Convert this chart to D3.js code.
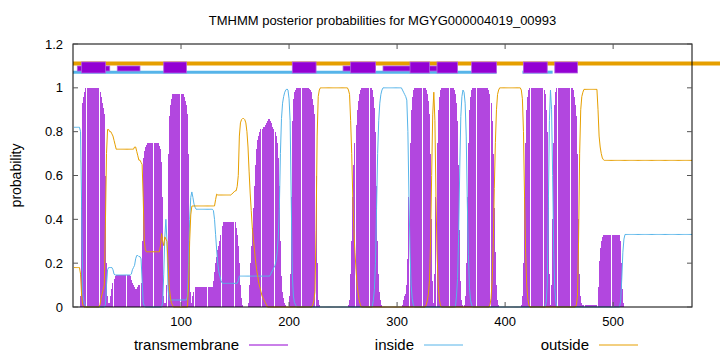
<!DOCTYPE html>
<html>
<head>
<meta charset="utf-8">
<script src="https://cdn.jsdelivr.net/npm/d3@7"></script>
<style>
  body { margin: 0; background: #fff; }
  svg { display: block; font-family: 'Liberation Sans', Arial, sans-serif; }
  .label { font-size: 13px; fill: #000; }
  .ytitle { font-size: 14px; fill: #000; }
  .legend text { font-size: 15px; fill: #000; }
</style>
</head>
<body>
<svg id="chart"></svg>
<script>
const seqLength = 573
const yTicks = [0, 0.2, 0.4, 0.6, 0.8, 1, 1.2]
const xTicks = [100, 200, 300, 400, 500]
const seriesNames = ['transmembrane', 'inside', 'outside']

// posterior probabilities as step breakpoints [residue, p]; p holds until the next breakpoint
const tmSteps = [
  [1,0],[7,0.05],[8,0.5],[9,0.93],[10,0.96],[11,0.98],[12,1],
  [25,0.98],[26,0.96],[27,0.93],[28,0.91],[29,0.88],[30,0.6],[31,0.2],[32,0.05],[33,0.02],[35,0.05],[36,0.08],[37,0.11],[38,0.13],[39,0.14],[40,0.146],
  [53,0.14],[54,0.125],[55,0.11],[56,0.1],[57,0.09],[58,0.08],[60,0.09],[61,0.1],[63,0.11],[64,0.3],[65,0.68],[66,0.71],[67,0.73],[68,0.74],[69,0.747],
  [80,0.735],[81,0.72],[82,0.66],[83,0.5],[84,0.05],[85,0.02],[87,0.1],[88,0.7],[89,0.87],[90,0.92],[91,0.95],[92,0.97],
  [103,0.96],[104,0.94],[105,0.92],[106,0.88],[107,0.7],[108,0.3],[109,0.07],[110,0.02],[111,0.05],[112,0.07],[113,0.09],[114,0.093],
  [130,0.12],[131,0.16],[132,0.2],[133,0.23],[134,0.26],[135,0.28],[136,0.3],[137,0.33],[138,0.37],[139,0.39],
  [151,0.36],[152,0.33],[153,0.28],[154,0.2],[155,0.1],[156,0.04],[157,0.01],[158,0],
  [162,0.02],[163,0.1],[164,0.2],[165,0.28],[166,0.36],[167,0.45],[168,0.55],[169,0.65],[170,0.72],[171,0.76],[172,0.78],[173,0.8],[174,0.81],[176,0.82],[178,0.83],[179,0.84],[180,0.85],[181,0.86],
  [183,0.85],[184,0.84],[185,0.82],[186,0.81],[187,0.8],[188,0.78],[189,0.75],[190,0.68],[191,0.55],[192,0.3],[193,0.14],[194,0.07],[195,0.04],[196,0.02],[197,0.01],[198,0],
  [200,0.05],[201,0.15],[202,0.5],[203,0.85],[204,0.95],[205,0.98],[206,0.99],[207,1],
  [219,0.995],[220,0.99],[221,0.98],[222,0.95],[223,0.92],[224,0.88],[225,0.6],[226,0.2],[227,0.03],[228,0.01],[229,0],
  [255,0.01],[256,0.03],[257,0.15],[258,0.3],[259,0.5],[260,0.65],[261,0.75],[262,0.83],[263,0.9],[264,0.94],[265,0.97],[266,0.99],[267,1],
  [277,0.99],[278,0.96],[279,0.91],[280,0.8],[281,0.55],[282,0.3],[283,0.15],[284,0.07],[285,0.03],[286,0.01],[287,0],
  [305,0.01],[306,0.03],[307,0.05],[308,0.06],[309,0.1],[310,0.22],[311,0.5],[312,0.75],[313,0.9],[314,0.96],[315,0.99],[316,1],
  [327,0.99],[328,0.97],[329,0.94],[330,0.88],[331,0.7],[332,0.4],[333,0.12],[334,0.02],[335,0.15],[336,0.5],[337,0.75],[338,0.9],[339,0.96],[340,0.99],[341,1],
  [353,0.99],[354,0.97],[355,0.93],[356,0.85],[357,0.65],[358,0.35],[359,0.12],[360,0.03],[361,0.01],[363,0.05],[364,0.2],[365,0.5],[366,0.75],[367,0.9],[368,0.96],[369,0.99],[370,1],
  [385,0.99],[386,0.97],[387,0.93],[388,0.85],[389,0.7],[390,0.45],[391,0.25],[392,0.1],[393,0.03],[394,0.01],[395,0],
  [415,0.01],[416,0.05],[417,0.2],[418,0.5],[419,0.75],[420,0.9],[421,0.96],[422,0.99],[423,1],
  [436,0.99],[437,0.97],[438,0.9],[439,0.8],[440,0.5],[441,0.15],[442,0.01],[443,0.1],[444,0.4],[445,0.75],[446,0.92],[447,0.98],[448,1],
  [463,0.99],[464,0.96],[465,0.92],[466,0.87],[467,0.7],[468,0.4],[469,0.15],[470,0.05],[471,0.02],[472,0.007],
  [486,0.09],[487,0.21],[488,0.27],[489,0.3],[490,0.32],[491,0.328],
  [507,0.3],[508,0.2],[509,0.08],[510,0.02],[511,0]
]

const insideSteps = [
  [1,0.82],[7,0.8],[8,0.45],[9,0.06],[10,0.03],[11,0.01],[12,0],
  [30,0.01],[31,0.1],[32,0.17],[33,0.18],[37,0.17],[38,0.15],[39,0.146],
  [54,0.15],[55,0.17],[56,0.18],[57,0.19],[58,0.22],[59,0.235],[61,0.23],[63,0.22],[64,0.12],[65,0.02],[66,0.005],[67,0],
  [83,0.02],[84,0.15],[85,0.32],[86,0.4],[87,0.3],[88,0.08],[89,0.032],
  [106,0.05],[107,0.2],[108,0.4],[109,0.5],[110,0.525],[111,0.5],[112,0.47],[113,0.455],[114,0.446],
  [130,0.44],[131,0.4],[132,0.33],[133,0.26],[134,0.2],[135,0.16],[136,0.14],[137,0.12],[138,0.11],[139,0.108],
  [153,0.12],[154,0.141],
  [183,0.15],[184,0.16],[185,0.17],[186,0.18],[187,0.19],[188,0.21],[189,0.25],[190,0.32],[191,0.45],[192,0.7],[193,0.86],[194,0.93],[195,0.96],[196,0.98],[197,0.99],[198,0.995],
  [199,0.99],[200,0.95],[201,0.85],[202,0.5],[203,0.15],[204,0.05],[205,0.02],[206,0.01],[207,0],
  [278,0.03],[279,0.08],[280,0.2],[281,0.45],[282,0.7],[283,0.85],[284,0.93],[285,0.97],[286,0.99],[287,1],
  [305,0.99],[306,0.98],[307,0.97],[308,0.96],[309,0.944],[310,0.8],[311,0.5],[312,0.25],[313,0.1],[314,0.04],[315,0.01],[316,0],
  [355,0.05],[356,0.13],[357,0.33],[358,0.63],[359,0.87],[360,0.96],[361,0.99],[362,0.98],[363,0.93],[364,0.78],[365,0.48],[366,0.24],[367,0.09],[368,0.03],[369,0.01],[370,0],
  [438,0.02],[439,0.1],[440,0.45],[441,0.85],[442,0.99],[443,0.9],[444,0.6],[445,0.25],[446,0.08],[447,0.02],[448,0],
  [507,0.03],[508,0.13],[509,0.25],[510,0.31],[511,0.331]
]

const outsideSteps = [
  [1,0.18],[7,0.15],[8,0.05],[9,0.01],[10,0],
  [25,0.01],[26,0.04],[27,0.06],[28,0.08],[29,0.1],[30,0.38],[31,0.7],[32,0.81],[34,0.8],[36,0.79],[37,0.78],[38,0.76],[39,0.74],[40,0.72],
  [57,0.73],[59,0.71],[60,0.69],[61,0.67],[63,0.66],[64,0.65],[65,0.5],[66,0.3],[67,0.26],[68,0.252],
  [81,0.28],[82,0.335],[83,0.3],[84,0.28],[85,0.32],[86,0.31],[87,0.3],[88,0.2],[89,0.1],[90,0.05],[91,0.02],[92,0.01],[93,0],
  [107,0.1],[108,0.3],[109,0.42],[110,0.46],[111,0.461],
  [132,0.49],[133,0.515],[134,0.511],[147,0.515],[148,0.52],[149,0.525],[150,0.53],[152,0.55],[153,0.6],[154,0.78],[155,0.84],[156,0.855],[157,0.86],[159,0.855],[160,0.84],
  [161,0.8],[162,0.73],[163,0.62],[164,0.52],[165,0.44],[166,0.36],[167,0.31],[168,0.26],[169,0.21],[170,0.17],[171,0.14],[172,0.11],[173,0.09],[174,0.07],[175,0.05],[176,0.04],[177,0.03],[178,0.02],[179,0.01],[180,0],
  [222,0.01],[223,0.03],[224,0.07],[225,0.35],[226,0.78],[227,0.96],[228,0.99],[229,1],
  [255,0.99],[256,0.97],[257,0.85],[258,0.7],[259,0.5],[260,0.35],[261,0.25],[262,0.17],[263,0.1],[264,0.06],[265,0.03],[266,0.01],[267,0],
  [327,0.01],[328,0.03],[329,0.06],[330,0.12],[331,0.3],[332,0.6],[333,0.88],[334,0.98],[335,0.85],[336,0.5],[337,0.25],[338,0.1],[339,0.04],[340,0.01],[341,0],
  [386,0.01],[387,0.04],[388,0.12],[389,0.28],[390,0.54],[391,0.75],[392,0.9],[393,0.97],[394,0.99],[395,1],
  [415,0.99],[416,0.95],[417,0.8],[418,0.5],[419,0.25],[420,0.1],[421,0.04],[422,0.01],[423,0],
  [466,0.01],[467,0.05],[468,0.3],[469,0.7],[470,0.9],[471,0.96],[472,0.98],[473,0.993],
  [486,0.9],[487,0.78],[488,0.73],[489,0.7],[490,0.68],[491,0.672],[492,0.669]
]

// predicted topology shown above the curves: [from, to] in residues
const outsideBar = [[0, 600]]
const insideBar = [[0, 392], [416, 444]]
const helixBoxes = [[8, 30], [84, 105], [203, 225], [257, 280], [312, 330], [337, 356], [369, 392], [417, 439], [446, 467]]
const helixBoxesThin = [[4, 34], [41, 62], [250, 280], [287, 337]]

const colors = {transmembrane: '#9400d3', inside: '#56b4e9', outside: '#e69f00'}

class TmhmmPlot {

    constructor(config) {
        this.config = {
            parentElement: config.parentElement,
            containerWidth: config.containerWidth || 720,
            containerHeight: config.containerHeight || 352,
            margin: config.margin || {top: 44, right: 28, bottom: 45, left: 73}
        }
        this.initVis()
    }

    initVis() {
        let vis = this

        vis.width = vis.config.containerWidth - vis.config.margin.left - vis.config.margin.right
        vis.height = vis.config.containerHeight - vis.config.margin.top - vis.config.margin.bottom

        vis.xScale = d3.scaleLinear().domain([0, seqLength]).range([0, vis.width])
        vis.yScale = d3.scaleLinear().domain([0, 1.2]).range([vis.height, 0])

        vis.svg = d3.select(vis.config.parentElement)
            .attr('width', vis.config.containerWidth)
            .attr('height', vis.config.containerHeight)

        vis.chart = vis.svg.append('g')
            .attr('transform', `translate(${vis.config.margin.left},${vis.config.margin.top})`)

        vis.svg.append('text')
            .attr('class', 'label')
            .attr('x', vis.config.margin.left + vis.width / 2)
            .attr('y', 25)
            .attr('text-anchor', 'middle')
            .text('TMHMM posterior probabilities for MGYG000004019_00993')

        vis.svg.append('text')
            .attr('class', 'ytitle')
            .attr('transform', `translate(21,${vis.config.margin.top + vis.height / 2}) rotate(-90)`)
            .attr('text-anchor', 'middle')
            .text('probability')
    }

    expand(steps) {
        let out = []
        let k = 0
        for (let r = 1; r <= seqLength; r++) {
            while (k + 1 < steps.length && steps[k + 1][0] <= r) k++
            out.push({pos: r, p: steps[k][1]})
        }
        return out
    }

    renderVis() {
        let vis = this
        let x = vis.xScale, y = vis.yScale

        let tm = vis.expand(tmSteps)
        let inside = vis.expand(insideSteps)
        let outside = vis.expand(outsideSteps)

        // impulses for transmembrane
        vis.chart.append('g')
            .attr('shape-rendering', 'crispEdges')
            .selectAll('line')
            .data(tm.filter(d => d.p > 0))
            .join('line')
                .attr('x1', d => x(d.pos))
                .attr('x2', d => x(d.pos))
                .attr('y1', y(0))
                .attr('y2', d => y(d.p))
                .attr('stroke', colors.transmembrane)
                .attr('stroke-opacity', 0.72)
                .attr('stroke-width', 1)

        let line = d3.line().x(d => x(d.pos)).y(d => y(d.p))

        vis.chart.append('path')
            .datum(inside)
            .attr('d', line)
            .attr('fill', 'none')
            .attr('stroke', colors.inside)
            .attr('stroke-width', 1)

        vis.chart.append('path')
            .datum(outside)
            .attr('d', line)
            .attr('fill', 'none')
            .attr('stroke', colors.outside)
            .attr('stroke-width', 1)

        // topology band
        vis.chart.selectAll('.out-bar')
            .data(outsideBar)
            .join('line')
                .attr('class', 'out-bar')
                .attr('x1', d => x(d[0]))
                .attr('x2', d => x(d[1]))
                .attr('y1', y(1.111))
                .attr('y2', y(1.111))
                .attr('stroke', colors.outside)
                .attr('stroke-width', 4)

        vis.chart.selectAll('.in-bar')
            .data(insideBar)
            .join('line')
                .attr('class', 'in-bar')
                .attr('x1', d => x(d[0]))
                .attr('x2', d => x(d[1]))
                .attr('y1', y(1.0715))
                .attr('y2', y(1.0715))
                .attr('stroke', colors.inside)
                .attr('stroke-width', 3)

        vis.chart.selectAll('.helix-thin')
            .data(helixBoxesThin)
            .join('rect')
                .attr('class', 'helix-thin')
                .attr('x', d => x(d[0]))
                .attr('width', d => x(d[1]) - x(d[0]))
                .attr('y', y(1.0996))
                .attr('height', y(1.0768) - y(1.0996))
                .attr('fill', colors.transmembrane)
                .attr('stroke', '#b060e0')
                .attr('stroke-width', 0.8)

        vis.chart.selectAll('.helix')
            .data(helixBoxes)
            .join('rect')
                .attr('class', 'helix')
                .attr('x', d => x(d[0]))
                .attr('width', d => x(d[1]) - x(d[0]))
                .attr('y', y(1.1179))
                .attr('height', y(1.0677) - y(1.1179))
                .attr('fill', colors.transmembrane)
                .attr('stroke', '#b060e0')
                .attr('stroke-width', 0.8)

        // border + ticks (inward, mirrored)
        vis.chart.append('rect')
            .attr('width', vis.width)
            .attr('height', vis.height)
            .attr('fill', 'none')
            .attr('stroke', '#000')
            .attr('stroke-width', 1)

        let tickLen = 5
        vis.chart.selectAll('.ytick')
            .data(yTicks.flatMap(v => [[v, 0, tickLen], [v, vis.width, vis.width - tickLen]]))
            .join('line')
                .attr('class', 'ytick')
                .attr('x1', d => d[1]).attr('x2', d => d[2])
                .attr('y1', d => y(d[0])).attr('y2', d => y(d[0]))
                .attr('stroke', '#555')

        vis.chart.selectAll('.xtick')
            .data(xTicks.flatMap(v => [[v, vis.height, vis.height - tickLen], [v, 0, tickLen]]))
            .join('line')
                .attr('class', 'xtick')
                .attr('x1', d => x(d[0])).attr('x2', d => x(d[0]))
                .attr('y1', d => d[1]).attr('y2', d => d[2])
                .attr('stroke', '#555')

        vis.chart.selectAll('.ylabel')
            .data(yTicks)
            .join('text')
                .attr('class', 'label ylabel')
                .attr('x', -10)
                .attr('y', d => y(d) + 4.5)
                .attr('text-anchor', 'end')
                .text(d => d3.format('~g')(d))

        vis.chart.selectAll('.xlabel')
            .data(xTicks)
            .join('text')
                .attr('class', 'label xlabel')
                .attr('x', d => x(d))
                .attr('y', vis.height + 19)
                .attr('text-anchor', 'middle')
                .text(d => d)

        // legend along the bottom
        let legend = vis.svg.selectAll('.legend')
            .data(seriesNames)
            .join('g')
                .attr('class', 'legend')
                .attr('transform', (d, i) => `translate(${239 + i * 175},345)`)

        legend.append('text')
            .attr('y', 5)
            .attr('text-anchor', 'end')
            .text(d => d)

        legend.append('line')
            .attr('x1', 10).attr('x2', 49)
            .attr('stroke', d => colors[d])
            .attr('stroke-width', 1)
    }
}

const plot = new TmhmmPlot({parentElement: '#chart'})
plot.renderVis()
</script>
</body>
</html>
